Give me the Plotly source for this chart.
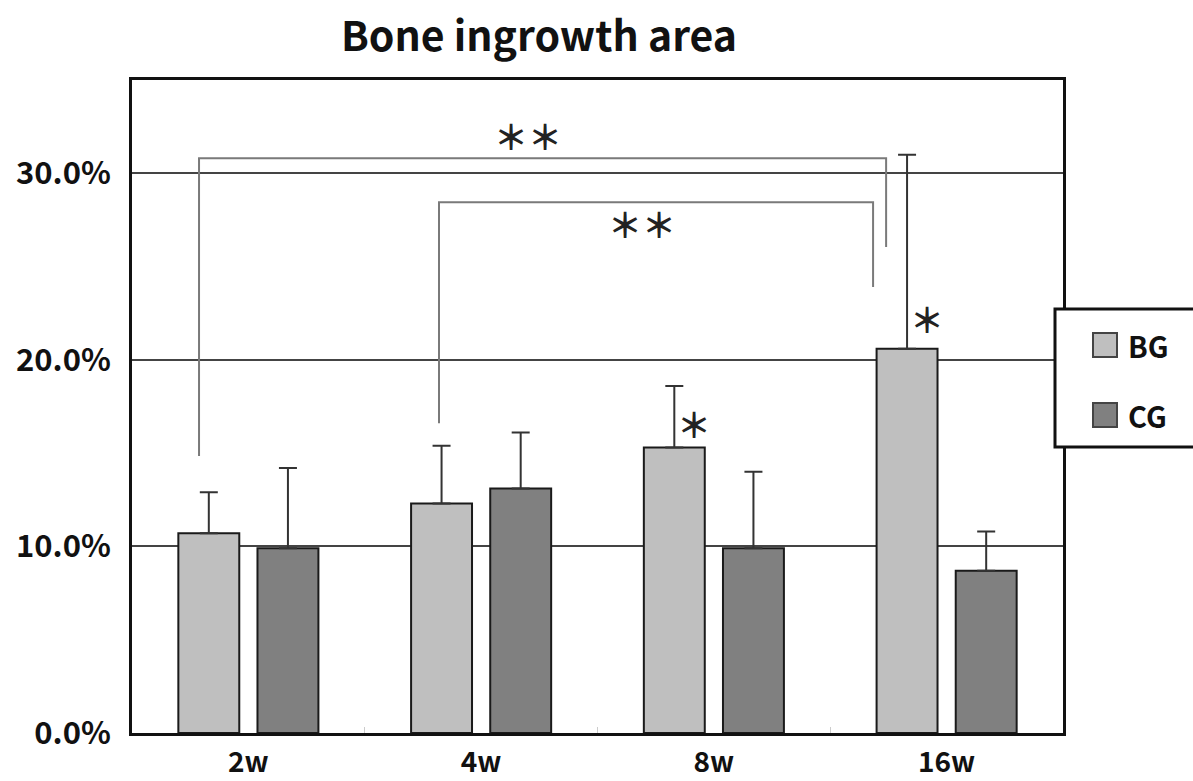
import plotly.graph_objects as go

# --- data -------------------------------------------------------------
weeks = ["2w", "4w", "8w", "16w"]
bg_mean = [10.7, 12.3, 15.3, 20.6]      # BG group, % bone ingrowth area
bg_sd = [2.2, 3.1, 3.3, 10.4]
cg_mean = [9.9, 13.1, 9.9, 8.7]         # CG group
cg_sd = [4.3, 3.0, 4.1, 2.1]
y_ticks = [0, 10, 20, 30]
y_ticktext = [f"{v:.1f}%" for v in y_ticks]

# significance brackets: (left x, left foot, top, right x, right foot, label x, label y)
brackets = [
    (-0.212, 14.85, 30.8, 2.740, 26.05, 1.20, 32.0),
    (0.819, 16.6, 28.45, 2.684, 23.9, 1.69, 27.3),
]
# single-star marks next to BG bars
stars = [(2, 16.6), (3, 22.2)]

# --- layout geometry (pixels) ----------------------------------------
W, H = 1193, 781
L, R, T, B = 132, 1063, 80, 733
BAR_OFF = 0.17   # half distance between grouped bar centres, in category units

def px(xp):
    return (xp - L) / (R - L)

def py(yp):
    return (B - yp) / (B - T)

FONT = "Noto Sans CJK JP"
STAR_FONT = dict(family=FONT, size=34, color="#222222", weight="bold")

xs = list(range(len(weeks)))

fig = go.Figure()
fig.add_trace(go.Bar(
    x=xs, y=bg_mean, name="BG",
    marker=dict(color="#bfbfbf", line=dict(color="#1a1a1a", width=2)),
    error_y=dict(type="data", symmetric=False, array=bg_sd,
                 arrayminus=[0] * len(bg_sd), color="#333333",
                 thickness=2, width=9),
))
fig.add_trace(go.Bar(
    x=xs, y=cg_mean, name="CG",
    marker=dict(color="#808080", line=dict(color="#1a1a1a", width=2)),
    error_y=dict(type="data", symmetric=False, array=cg_sd,
                 arrayminus=[0] * len(cg_sd), color="#333333",
                 thickness=2, width=9),
))

shapes = []
annotations = []

# brackets
for x0, f0, top, x1, f1, lx, ly in brackets:
    shapes.append(dict(
        type="path", xref="x", yref="y",
        path=f"M {x0},{f0} L {x0},{top} L {x1},{top} L {x1},{f1}",
        line=dict(color="#7a7a7a", width=2),
    ))
    annotations.append(dict(
        x=lx, y=ly, xref="x", yref="y", text="＊＊", showarrow=False,
        font=STAR_FONT,
    ))

for cx, sy in stars:
    annotations.append(dict(
        x=cx - BAR_OFF, y=sy, xref="x", yref="y", text="＊",
        showarrow=False, xshift=20, font=STAR_FONT,
    ))

# legend box, drawn by hand so that it runs off the right edge
shapes.append(dict(
    type="rect", xref="paper", yref="paper",
    x0=px(1055), x1=px(1215), y0=py(447), y1=py(309),
    line=dict(color="#111111", width=3), fillcolor="white", layer="above",
))
for name, color, yc in [("BG", "#bfbfbf", 345), ("CG", "#808080", 415)]:
    shapes.append(dict(
        type="rect", xref="paper", yref="paper",
        x0=px(1093), x1=px(1117), y0=py(yc + 12), y1=py(yc - 12),
        line=dict(color="#444444", width=2), fillcolor=color, layer="above",
    ))
    annotations.append(dict(
        x=px(1126), y=py(yc), xref="paper", yref="paper", text=name,
        xanchor="left", yanchor="middle", showarrow=False,
        font=dict(family=FONT, size=29, color="#111111", weight="bold"),
    ))

fig.update_layout(
    width=W, height=H,
    margin=dict(l=L, r=W - R, t=T, b=H - B, pad=0, autoexpand=False),
    paper_bgcolor="white", plot_bgcolor="white",
    barmode="group", bargap=0.32, bargroupgap=0.23,
    showlegend=False,
    title=dict(text="Bone ingrowth area", x=539 / W, xanchor="center",
               y=1 - 37 / H, yanchor="middle",
               font=dict(family=FONT, size=41, color="#111111", weight="bold")),
    shapes=shapes, annotations=annotations,
    font=dict(family=FONT, color="#111111"),
)
fig.update_xaxes(
    range=[-0.5, len(weeks) - 0.5], tickvals=xs, ticktext=weeks,
    showgrid=False, zeroline=False, automargin=False,
    showline=True, linecolor="#111111", linewidth=3, mirror=True,
    ticks="", ticklabelstandoff=2,
    tickfont=dict(family=FONT, size=28, color="#111111", weight="bold"),
    minor=dict(tickvals=[0.5, 1.5, 2.5], ticks="inside", ticklen=6,
               tickcolor="#cccccc", tickwidth=1),
)
fig.update_yaxes(
    range=[0, 35], tickvals=y_ticks, ticktext=y_ticktext,
    showgrid=True, gridcolor="#444444", gridwidth=2, zeroline=False,
    automargin=False,
    showline=True, linecolor="#111111", linewidth=3, mirror=True,
    ticks="", ticklabelstandoff=12,
    tickfont=dict(family=FONT, size=31, color="#111111", weight="bold"),
)

fig.write_html("out.html")
